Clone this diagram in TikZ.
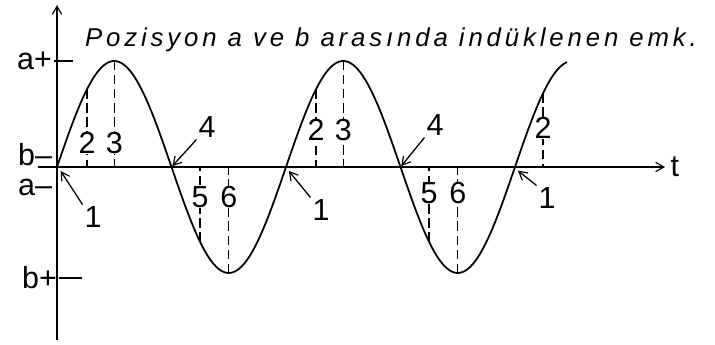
\documentclass[tikz,border=0pt]{standalone}
\usepackage{fontspec}
\setmainfont{Liberation Sans}
\newfontfamily\handfont[LetterSpace=15]{Liberation Sans}
\usetikzlibrary{positioning, arrows.meta}

\begin{document}
\begin{tikzpicture}[x=0.03cm, y=0.03cm, line width=1.5pt,
        >={Straight Barb[length=7pt, width=8pt, line width=1pt]},
        declare function={wave(\x)=106*sin(\x/229*360);},
        lbl/.style={font=\fontsize{26}{26}\selectfont, inner sep=1pt},
        num/.style={lbl, fill=white, inner sep=0.5pt},
        guide/.style={dash pattern=on 8pt off 4pt, line width=1.2pt},
        pointer/.style={->, shorten >=1pt, line width=1.1pt}]

        \useasboundingbox (-57,-178) rectangle (658,167);

        \coordinate (ybot) at (0,-173);
        \coordinate (ytop) at (0,162);
        \coordinate (xleft) at (-19,0);
        \coordinate (xright) at (608,0);
        \draw[->] (ybot) -- (ytop);
        \draw[->] (xleft) -- (xright);
        \node[lbl, right=3pt of xright] (t) {t};

        \node[lbl, anchor=east] (aplus) at (-3,106) {a+};
        \node[lbl, anchor=east] (bminus) at (-3,12) {b–};
        \node[lbl, anchor=east] (aminus) at (-3,-20) {a–};
        \node[lbl, anchor=east] (bplus) at (2,-111) {b+};
        \coordinate (aplustick) at (16,106);
        \coordinate (bplustick) at (25,-111);
        \draw (aplus.east) -- (aplustick);
        \draw (bplus.east) -- (bplustick);

        \node[font=\handfont\itshape\fontsize{22}{22}\selectfont] (title) at (334,127)
            {Pozisyon a ve b arasında indüklenen emk.};

        \draw plot[domain=0:510, samples=200, smooth] (\x, {wave(\x)});

        \foreach \xp [count=\i] in {30, 57.25, 143, 171.75,
                                    259, 286.25, 372, 400.75, 486} {
            \coordinate (c\i) at (\xp, {wave(\xp)});
            \coordinate (a\i) at (\xp, 0);
            \draw[guide] (c\i) -- (a\i);
        }

        \node[num] (n2a) at (30,24) {2};
        \node[num] (n3a) at (57.25,24) {3};
        \node[num] (n5a) at (143,-30) {5};
        \node[num] (n6a) at (171.75,-30) {6};
        \node[num] (n2b) at (259,37) {2};
        \node[num] (n3b) at (286.25,37) {3};
        \node[num] (n5b) at (372,-26) {5};
        \node[num] (n6b) at (400.75,-26) {6};
        \node[num] (n2c) at (486,39) {2};

        \coordinate (z0) at (3,-3);
        \coordinate (z1) at (114.5,0);
        \coordinate (z2) at (231,-3);
        \coordinate (z3) at (343.5,0);
        \coordinate (z4) at (460,-3);

        \node[lbl] (four1) at (150,40) {4};
        \node[lbl] (four2) at (378,42) {4};
        \node[lbl] (one1) at (36,-50) {1};
        \node[lbl] (one2) at (264,-43) {1};
        \node[lbl] (one3) at (490,-31) {1};

        \path[pointer]
        (four1.south west) edge (z1)
        (four2.south west) edge (z3)
        (one1.north west) edge (z0)
        (one2.north west) edge (z2)
        (one3.north west) edge (z4);

    \end{tikzpicture}
\end{document}
